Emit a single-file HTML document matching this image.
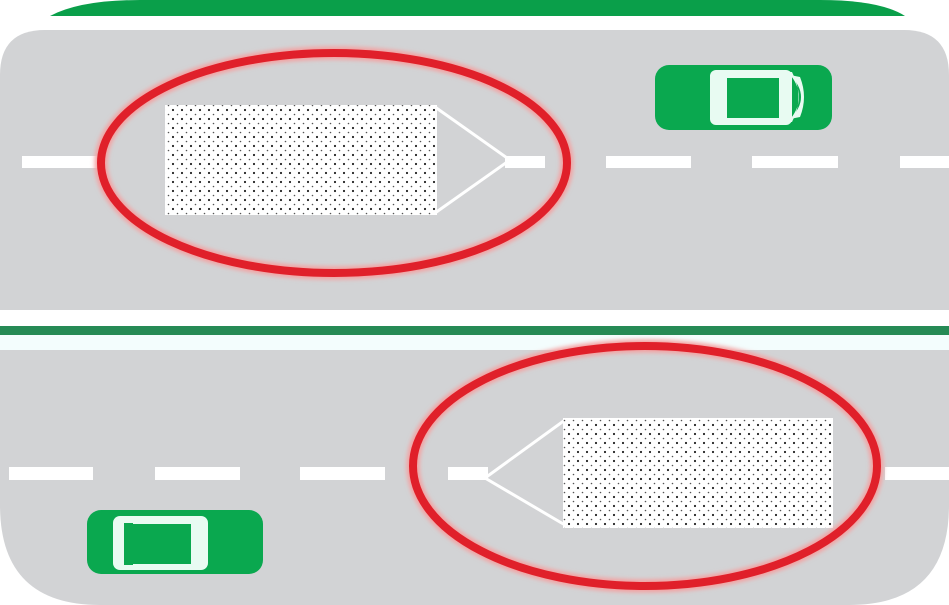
<!DOCTYPE html>
<html><head><meta charset="utf-8"><style>html,body{margin:0;padding:0;background:#fff}svg{display:block}</style></head>
<body>
<svg width="949" height="605" viewBox="0 0 949 605">
<defs>
<pattern id="dots" width="9" height="9" patternUnits="userSpaceOnUse">
<rect width="9" height="9" fill="#fff"/>
<circle cx="2" cy="2" r="1.1" fill="#222"/><circle cx="6.5" cy="6.5" r="0.8" fill="#555"/>
</pattern>
<filter id="glow" x="-10%" y="-10%" width="120%" height="120%"><feGaussianBlur stdDeviation="2"/></filter>
</defs>
<path d="M50,16 Q80,0 140,0 L820,0 Q880,0 905,16 Z" fill="#0a9f4a"/>
<path d="M0,75 Q0,30 45,30 L904,30 Q949,30 949,75 L949,310 L0,310 Z" fill="#d2d3d5"/>
<rect x="0" y="326" width="949" height="9" fill="#268a55"/>
<rect x="0" y="335" width="949" height="15" fill="#f3fdfd"/>
<path d="M0,350 L949,350 L949,505 Q949,605 849,605 L100,605 Q0,605 0,505 Z" fill="#d2d3d5"/>
<g fill="#fff">
<rect x="22" y="156" width="75" height="12"/><rect x="505" y="156" width="40" height="12"/><rect x="606" y="156" width="85" height="12"/><rect x="752" y="156" width="86" height="12"/><rect x="900" y="156" width="49" height="12"/>
</g>
<g fill="#fff">
<rect x="9" y="467" width="84" height="13"/><rect x="155" y="467" width="85" height="13"/><rect x="300" y="467" width="85" height="13"/><rect x="448" y="467" width="40" height="13"/><rect x="885" y="467" width="64" height="13"/>
</g>
<g>
<path d="M435,107 L510,160 L435,213" fill="none" stroke="#fff" stroke-width="3"/>
<rect x="165" y="105" width="272" height="110" fill="url(#dots)"/>
</g>
<g>
<path d="M565,420 L485,478 L565,525" fill="none" stroke="#fff" stroke-width="3"/>
<rect x="563" y="418" width="270" height="110" fill="url(#dots)"/>
</g>
<g>
<ellipse cx="334" cy="163" rx="233" ry="110" fill="none" stroke="#f4a0a0" stroke-width="13" filter="url(#glow)"/>
<ellipse cx="334" cy="163" rx="233" ry="110" fill="none" stroke="#e0202a" stroke-width="8"/>
</g>
<g>
<ellipse cx="645" cy="466" rx="232" ry="120" fill="none" stroke="#f4a0a0" stroke-width="13" filter="url(#glow)"/>
<ellipse cx="645" cy="466" rx="232" ry="120" fill="none" stroke="#e0202a" stroke-width="8"/>
</g>
<g>
<rect x="655" y="65" width="177" height="65" rx="14" fill="#0aa84f"/>
<rect x="710" y="70" width="82" height="55" rx="6" fill="#e8fbf2"/>
<rect x="727" y="78" width="52" height="40" fill="#0aa84f"/>
<path d="M788,72 Q810,97 788,122 L792,122 Q805,97 792,72 Z" fill="#e8fbf2"/>
<path d="M790,75 Q812,97 790,119 L800,117 Q808,97 800,77 Z" fill="#e8fbf2"/>
</g>
<g>
<rect x="87" y="510" width="176" height="64" rx="14" fill="#0aa84f"/>
<rect x="113" y="516" width="95" height="54" rx="7" fill="#e8fbf2"/>
<rect x="133" y="524" width="58" height="40" fill="#0aa84f"/>
<rect x="124" y="523" width="9" height="42" fill="#0aa84f"/>
</g>
</svg>
</body></html>
